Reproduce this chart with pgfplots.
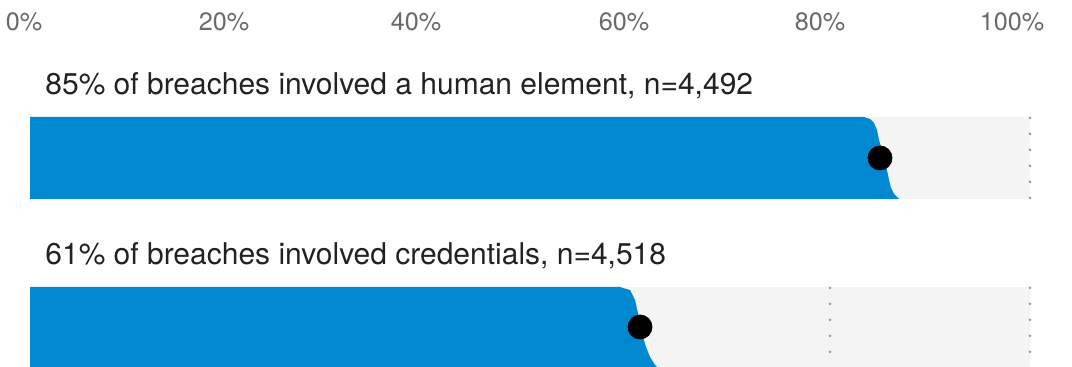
\documentclass[border=0pt]{standalone}
\usepackage{pgfplots}
\pgfplotsset{compat=1.18}
\usepackage{fontspec}
\setmainfont{TeX Gyre Heros}
\definecolor{barblue}{HTML}{0088D1}
\definecolor{trackgray}{HTML}{F4F4F4}
\definecolor{gridgray}{HTML}{9A9A9A}
\definecolor{labeltext}{HTML}{222222}
\definecolor{ticktext}{HTML}{6A6A6A}
\begin{document}
\begin{tikzpicture}
\path[use as bounding box] (0,0) rectangle (536pt,183.5pt);
\begin{axis}[
  at={(0,0)}, anchor=south west,
  scale only axis, width=536pt, height=183.5pt,
  xmin=-3, xmax=104.2, ymin=0, ymax=367,
  axis line style={draw=none},
  major tick length=0pt,
  ytick=\empty,
  xtick={0,20,40,60,80,100},
  xticklabels={0\%,20\%,40\%\kern8pt,60\%,80\%\kern4pt,100\%\kern12pt},
  xticklabel pos=right,
  xticklabel style={anchor=center, yshift=-11pt, xshift=-3pt,
    font=\fontsize{12.6}{15}\selectfont, text=ticktext},
  clip=false,
  grid line/.style={gridgray, line width=1.5pt, line cap=round,
    dash pattern=on 0pt off 8pt},
]
% grey tracks (full 100%)
\addplot[fill=trackgray, draw=none] coordinates {(0,168) (100,168) (100,250) (0,250)} -- cycle;
\addplot[fill=trackgray, draw=none] coordinates {(0,0) (100,0) (100,80) (0,80)} -- cycle;
% dotted gridlines inside the tracks
\addplot[grid line] coordinates {(100,249) (100,169)};
\addplot[grid line] coordinates {(80,79) (80,1)};
\addplot[grid line] coordinates {(100,79) (100,1)};
% human element: share with uncertainty edge
\addplot[fill=barblue, draw=none] coordinates {
  (0,250) (83.4,250) (84.0,248) (84.4,244) (84.7,237) (84.9,227) (85.2,217)
  (85.5,207) (85.7,197) (85.9,187) (86.1,179) (86.4,173) (86.8,169) (86.9,168) (0,168)
} -- cycle;
% credentials
\addplot[fill=barblue, draw=none] coordinates {
  (0,80) (59.0,80) (59.6,78) (60.0,77) (60.5,67) (60.8,54) (61.1,40)
  (61.3,30) (61.6,20) (62.0,10) (62.5,2) (62.7,0) (0,0)
} -- cycle;
% point estimates
\addplot[only marks, mark=*, mark size=6pt, black] coordinates {(85,209) (61,40)};
% row titles
\node[anchor=base west, text=labeltext, font=\fontsize{15}{18}\selectfont, inner sep=0pt]
  at (axis cs:1.5,272) {85\% of breaches involved a human element, n=4,492};
\node[anchor=base west, text=labeltext, font=\fontsize{15}{18}\selectfont, inner sep=0pt]
  at (axis cs:1.5,102) {61\% of breaches involved credentials, n=4,518};
\end{axis}
\end{tikzpicture}
\end{document}
